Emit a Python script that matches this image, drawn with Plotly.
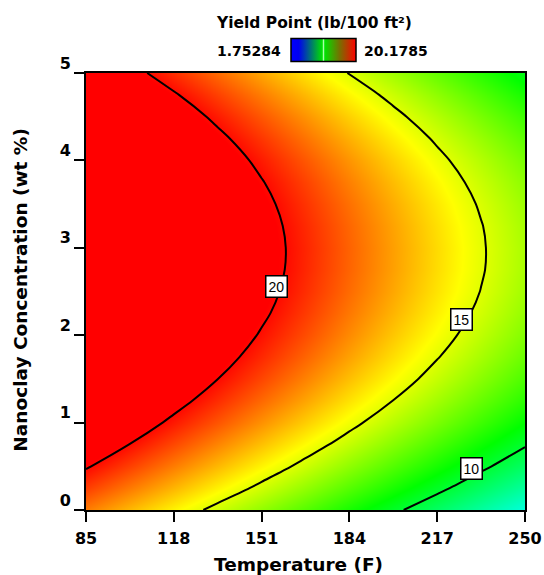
import plotly.graph_objects as go

# ---- data ----
temperature = [85, 101.5, 118, 134.5, 151, 167.5, 184, 200.5, 217, 233.5, 250]
nanoclay = [0, 0.25, 0.5, 0.75, 1.0, 1.25, 1.5, 1.75, 2.0, 2.25, 2.5,
            2.75, 3.0, 3.25, 3.5, 3.75, 4.0, 4.25, 4.5, 4.75, 5.0]
yield_point = [
    [17.93, 16.83, 15.74, 14.64, 13.55, 12.45, 11.35, 10.26, 9.16, 8.07, 6.97],
    [19.08, 17.98, 16.89, 15.79, 14.70, 13.60, 12.50, 11.41, 10.31, 9.22, 8.12],
    [20.13, 19.03, 17.93, 16.84, 15.74, 14.65, 13.55, 12.45, 11.36, 10.26, 9.17],
    [21.07, 19.98, 18.88, 17.78, 16.69, 15.59, 14.50, 13.40, 12.30, 11.21, 10.11],
    [21.91, 20.82, 19.72, 18.63, 17.53, 16.43, 15.34, 14.24, 13.15, 12.05, 10.95],
    [22.66, 21.56, 20.46, 19.37, 18.27, 17.18, 16.08, 14.98, 13.89, 12.79, 11.70],
    [23.29, 22.20, 21.10, 20.01, 18.91, 17.81, 16.72, 15.62, 14.53, 13.43, 12.33],
    [23.83, 22.74, 21.64, 20.54, 19.45, 18.35, 17.26, 16.16, 15.06, 13.97, 12.87],
    [24.27, 23.17, 22.07, 20.98, 19.88, 18.79, 17.69, 16.59, 15.50, 14.40, 13.31],
    [24.60, 23.50, 22.41, 21.31, 20.22, 19.12, 18.02, 16.93, 15.83, 14.74, 13.64],
    [24.83, 23.73, 22.64, 21.54, 20.45, 19.35, 18.25, 17.16, 16.06, 14.97, 13.87],
    [24.96, 23.86, 22.77, 21.67, 20.58, 19.48, 18.38, 17.29, 16.19, 15.10, 14.00],
    [24.99, 23.89, 22.79, 21.70, 20.60, 19.51, 18.41, 17.31, 16.22, 15.12, 14.03],
    [24.91, 23.82, 22.72, 21.62, 20.53, 19.43, 18.34, 17.24, 16.14, 15.05, 13.95],
    [24.73, 23.64, 22.54, 21.45, 20.35, 19.25, 18.16, 17.06, 15.97, 14.87, 13.77],
    [24.46, 23.36, 22.26, 21.17, 20.07, 18.98, 17.88, 16.78, 15.69, 14.59, 13.50],
    [24.07, 22.98, 21.88, 20.79, 19.69, 18.59, 17.50, 16.40, 15.31, 14.21, 13.11],
    [23.59, 22.50, 21.40, 20.30, 19.21, 18.11, 17.02, 15.92, 14.82, 13.73, 12.63],
    [23.01, 21.91, 20.81, 19.72, 18.62, 17.53, 16.43, 15.33, 14.24, 13.14, 12.05],
    [22.32, 21.22, 20.13, 19.03, 17.94, 16.84, 15.74, 14.65, 13.55, 12.46, 11.36],
    [21.53, 20.43, 19.34, 18.24, 17.15, 16.05, 14.95, 13.86, 12.76, 11.67, 10.57],
]
z_min = 1.75284
z_max = 20.1785
contour_levels = [10, 15, 20]
label_text = ["20", "15", "10"]
label_temp = [156.6, 226.0, 229.8]
label_conc = [2.56, 2.18, 0.48]
x_ticks = [85, 118, 151, 184, 217, 250]
y_ticks = [0, 1, 2, 3, 4, 5]

FONT = "DejaVu Sans"

de_scale = [
    [0.0, "rgb(0,0,255)"],
    [0.25, "rgb(0,255,255)"],
    [0.5, "rgb(0,255,0)"],
    [0.75, "rgb(255,255,0)"],
    [1.0, "rgb(255,0,0)"],
]
legend_scale = [
    [0.0, "rgb(0,0,255)"],
    [0.12, "rgb(0,0,240)"],
    [0.48, "rgb(0,225,0)"],
    [0.5, "rgb(170,255,170)"],
    [0.52, "rgb(0,225,0)"],
    [0.75, "rgb(120,110,0)"],
    [1.0, "rgb(255,0,0)"],
]

fig = go.Figure()
fig.add_trace(go.Heatmap(
    x=temperature, y=nanoclay, z=yield_point,
    zmin=z_min, zmax=z_max, colorscale=de_scale,
    zsmooth="best", showscale=False, hoverinfo="skip",
))
fig.add_trace(go.Contour(
    x=temperature, y=nanoclay, z=yield_point,
    contours=dict(coloring="none", start=contour_levels[0],
                  end=contour_levels[-1], size=5, showlabels=False),
    line=dict(color="black", width=2, smoothing=0.8),
    showscale=False, hoverinfo="skip",
))
# invisible trace carrying the small legend colour bar
fig.add_trace(go.Scatter(
    x=[temperature[0]], y=[nanoclay[0]], mode="markers",
    marker=dict(color=[z_min], cmin=z_min, cmax=z_max, colorscale=legend_scale,
                opacity=0, size=1, showscale=True,
                colorbar=dict(orientation="h", x=0.5403, xanchor="center",
                              y=1.0229, yanchor="bottom", len=65, lenmode="pixels",
                              thickness=23, thicknessmode="pixels",
                              outlinecolor="black", outlinewidth=1.5,
                              showticklabels=False, ticks="", xpad=0, ypad=0)),
    hoverinfo="skip", showlegend=False,
))

annotations = []
for t, xx, yy in zip(label_text, label_temp, label_conc):
    annotations.append(dict(x=xx, y=yy, xref="x", yref="y", text=t, showarrow=False,
                            xanchor="center", yanchor="middle",
                            font=dict(family="Liberation Sans", size=14, color="black"),
                            bgcolor="white", bordercolor="black", borderwidth=1.5,
                            borderpad=2))
annotations += [
    dict(x=0.519, y=1.1144, xref="paper", yref="paper", xanchor="center", yanchor="middle",
         text="Yield Point (lb/100 ft²)", showarrow=False,
         font=dict(family=FONT, size=15.5, color="black", weight="bold")),
    dict(x=0.4487, y=1.0503, xref="paper", yref="paper", xanchor="right", yanchor="middle",
         text="1.75284", showarrow=False,
         font=dict(family=FONT, size=14, color="black", weight="bold")),
    dict(x=0.6287, y=1.0503, xref="paper", yref="paper", xanchor="left", yanchor="middle",
         text="20.1785", showarrow=False,
         font=dict(family=FONT, size=14, color="black", weight="bold")),
    dict(x=0.485, y=-0.1236, xref="paper", yref="paper", xanchor="center", yanchor="middle",
         text="Temperature (F)", showarrow=False,
         font=dict(family=FONT, size=18.5, color="black", weight="bold")),
    dict(x=-0.150, y=0.5046, xref="paper", yref="paper", xanchor="center", yanchor="middle",
         text="Nanoclay Concentration (wt %)", textangle=-90, showarrow=False,
         font=dict(family=FONT, size=18.5, color="black", weight="bold")),
]

axis_common = dict(showline=True, linecolor="black", linewidth=2, mirror=True,
                   ticks="outside", ticklen=10, tickwidth=2, tickcolor="black",
                   showgrid=False, zeroline=False,
                   tickfont=dict(family=FONT, size=16, color="black", weight="bold"))

fig.update_layout(
    width=544, height=575,
    margin=dict(l=86, r=19, t=73, b=65, autoexpand=False),
    paper_bgcolor="white", plot_bgcolor="white",
    showlegend=False,
    annotations=annotations,
    xaxis=dict(range=[85, 250], tickvals=x_ticks, ticklabelstandoff=3, **axis_common),
    yaxis=dict(range=[0, 5], tickvals=y_ticks, ticklabelshift=-10, **axis_common),
)

fig.write_html("out.html")
